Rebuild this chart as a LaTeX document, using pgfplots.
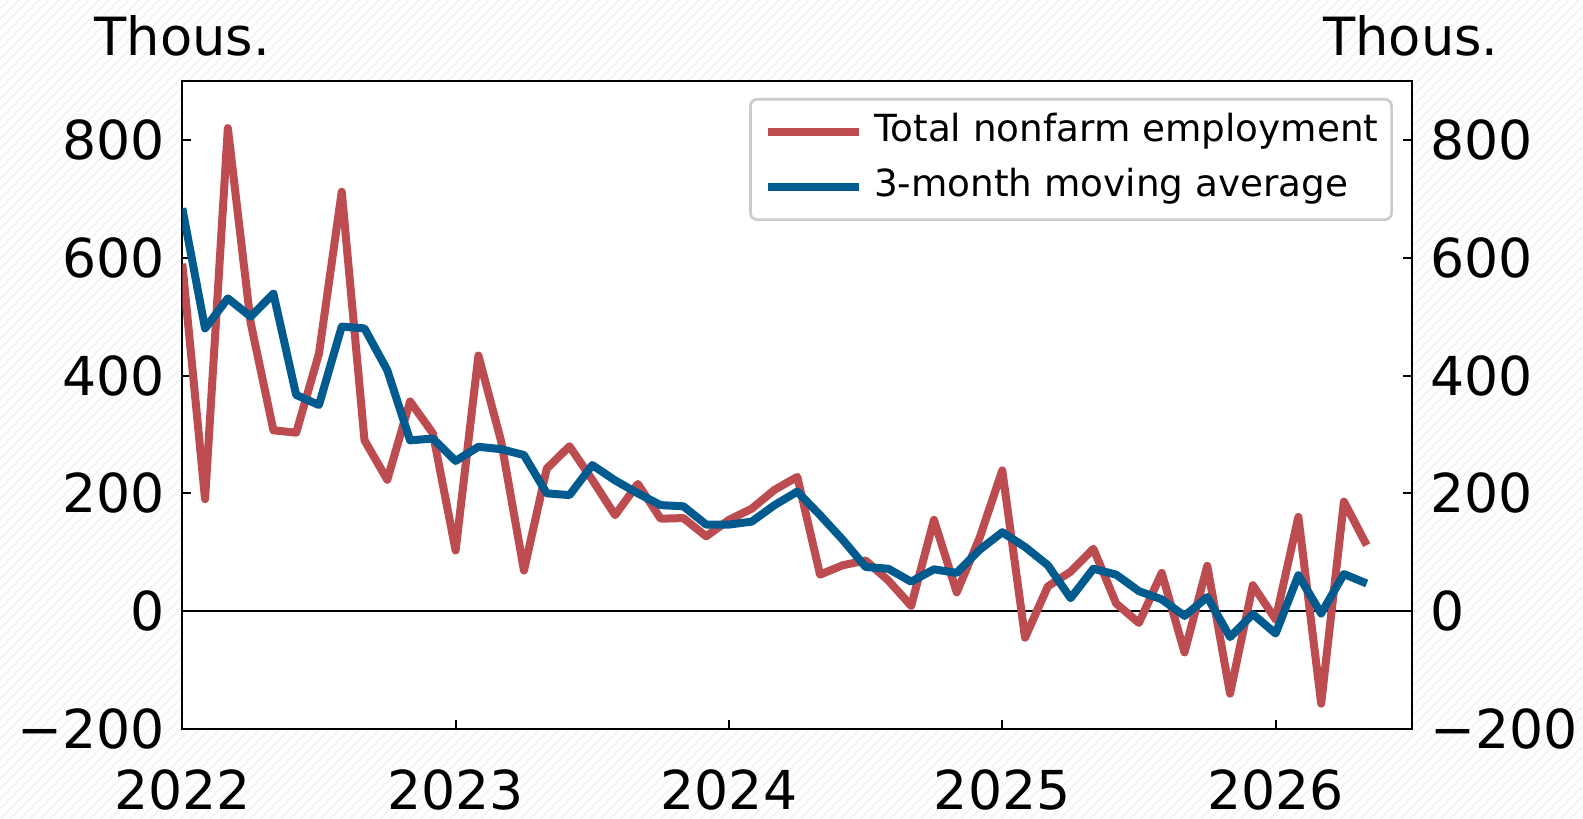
\documentclass[border=0pt]{standalone}
\usepackage{fontspec}
\setmainfont{DejaVu Sans}
\usepackage{pgfplots}
\pgfplotsset{compat=1.18}
\usepackage{pgfplotstable}
\usetikzlibrary{patterns}
\definecolor{nfred}{RGB}{189,76,80}
\definecolor{nfblue}{RGB}{2,91,143}

\pgfplotstableread{
m tot ma
0 590 684
1 190 480
2 820 531
3 490 500
4 307 539
5 303 367
6 437 350
7 712 483
8 290 480
9 223 409
10 356 290
11 302 293
12 103 255
13 434 279
14 288 275
15 69 265
16 242 200
17 280 197
18 223 248
19 163 222
20 216 200
21 157 180
22 158 178
23 127 147
24 155 147
25 174 152
26 206 180
27 228 203
28 62 163
29 78 121
30 86 75
31 52 72
32 9 50
33 155 71
34 32 65
35 124 104
36 239 134
37 -45 109
38 42 78
39 67 22
40 106 72
41 13 62
42 -20 34
43 65 20
44 -70 -8
45 77 24
46 -140 -44
47 44 -5
48 -14 -38
49 160 61
50 -157 -4
51 186 63
52 112 47
}\data

\begin{document}
\begin{tikzpicture}
\path[use as bounding box] (-54.69pt,-27pt) rectangle (420.21pt,218.7pt);
\fill[pattern=north east lines, pattern color=black!6] (-54.69pt,-27pt) rectangle (420.21pt,218.7pt);
\begin{axis}[
  at={(0pt,0pt)}, anchor=south west,
  scale only axis, width=369pt, height=194.4pt,
  xmin=0, xmax=54, ymin=-200, ymax=900,
  xtick={0,12,24,36,48}, xticklabels={2022,2023,2024,2025,2026},
  ytick={-200,0,200,400,600,800}, yticklabels={−200,0,200,400,600,800},
  ytick pos=left, xtick pos=bottom,
  tick align=inside, major tick length=2.7pt,
  tick style={black, line width=0.6pt},
  axis line style={black, line width=0.6pt},
  ticklabel style={font=\fontsize{16.1}{19}\selectfont},
  /pgf/number format/assume math mode=true,
  yticklabel style={xshift=-1.8pt},
  xticklabel style={yshift=-8.6pt},
  axis background/.style={fill=white},
  legend style={at={(1,1)}, anchor=north east, xshift=-5.8pt, yshift=-5.1pt,
    draw=black!20, line width=0.8pt, rounded corners=2pt, fill=white,
    fill opacity=0.85, text opacity=1,
    font=\fontsize{11.2}{13}\selectfont, inner xsep=4pt, inner ysep=4.2pt,
    row sep=5.3pt, nodes={inner sep=0pt, text height=8.5pt, text depth=2.7pt},
    /tikz/every odd column/.append style={column sep=3.2pt}},
  legend cell align=left,
  legend image code/.code={\draw[#1] (0pt,0pt) -- (27.5pt,0pt);},
]
\addplot[black, line width=0.6pt, forget plot] coordinates {(0,0) (54,0)};
\addplot[nfred, line width=2.4pt, line join=round] table[x=m, y=tot]{\data};
\addlegendentry{Total nonfarm employment}
\addplot[nfblue, line width=2.4pt, line join=round] table[x=m, y=ma]{\data};
\addlegendentry{3-month moving average}
\end{axis}
\begin{axis}[
  at={(0pt,0pt)}, anchor=south west,
  scale only axis, width=369pt, height=194.4pt,
  xmin=0, xmax=54, ymin=-200, ymax=900,
  axis x line=none, axis y line*=right,
  ytick={-200,0,200,400,600,800}, yticklabels={−200,0,200,400,600,800},
  tick align=inside, major tick length=2.7pt,
  tick style={black, line width=0.6pt},
  axis line style={black, line width=0.6pt, -},
  ticklabel style={font=\fontsize{16.1}{19}\selectfont},
  /pgf/number format/assume math mode=true,
  yticklabel style={xshift=1.8pt},
]
\end{axis}
\node[anchor=base west, inner sep=0pt, font=\fontsize{15.8}{18}\selectfont] at (-26.5pt,202pt) {Thous.};
\node[anchor=base west, inner sep=0pt, font=\fontsize{15.8}{18}\selectfont] at (342.1pt,202pt) {Thous.};
\end{tikzpicture}
\end{document}
